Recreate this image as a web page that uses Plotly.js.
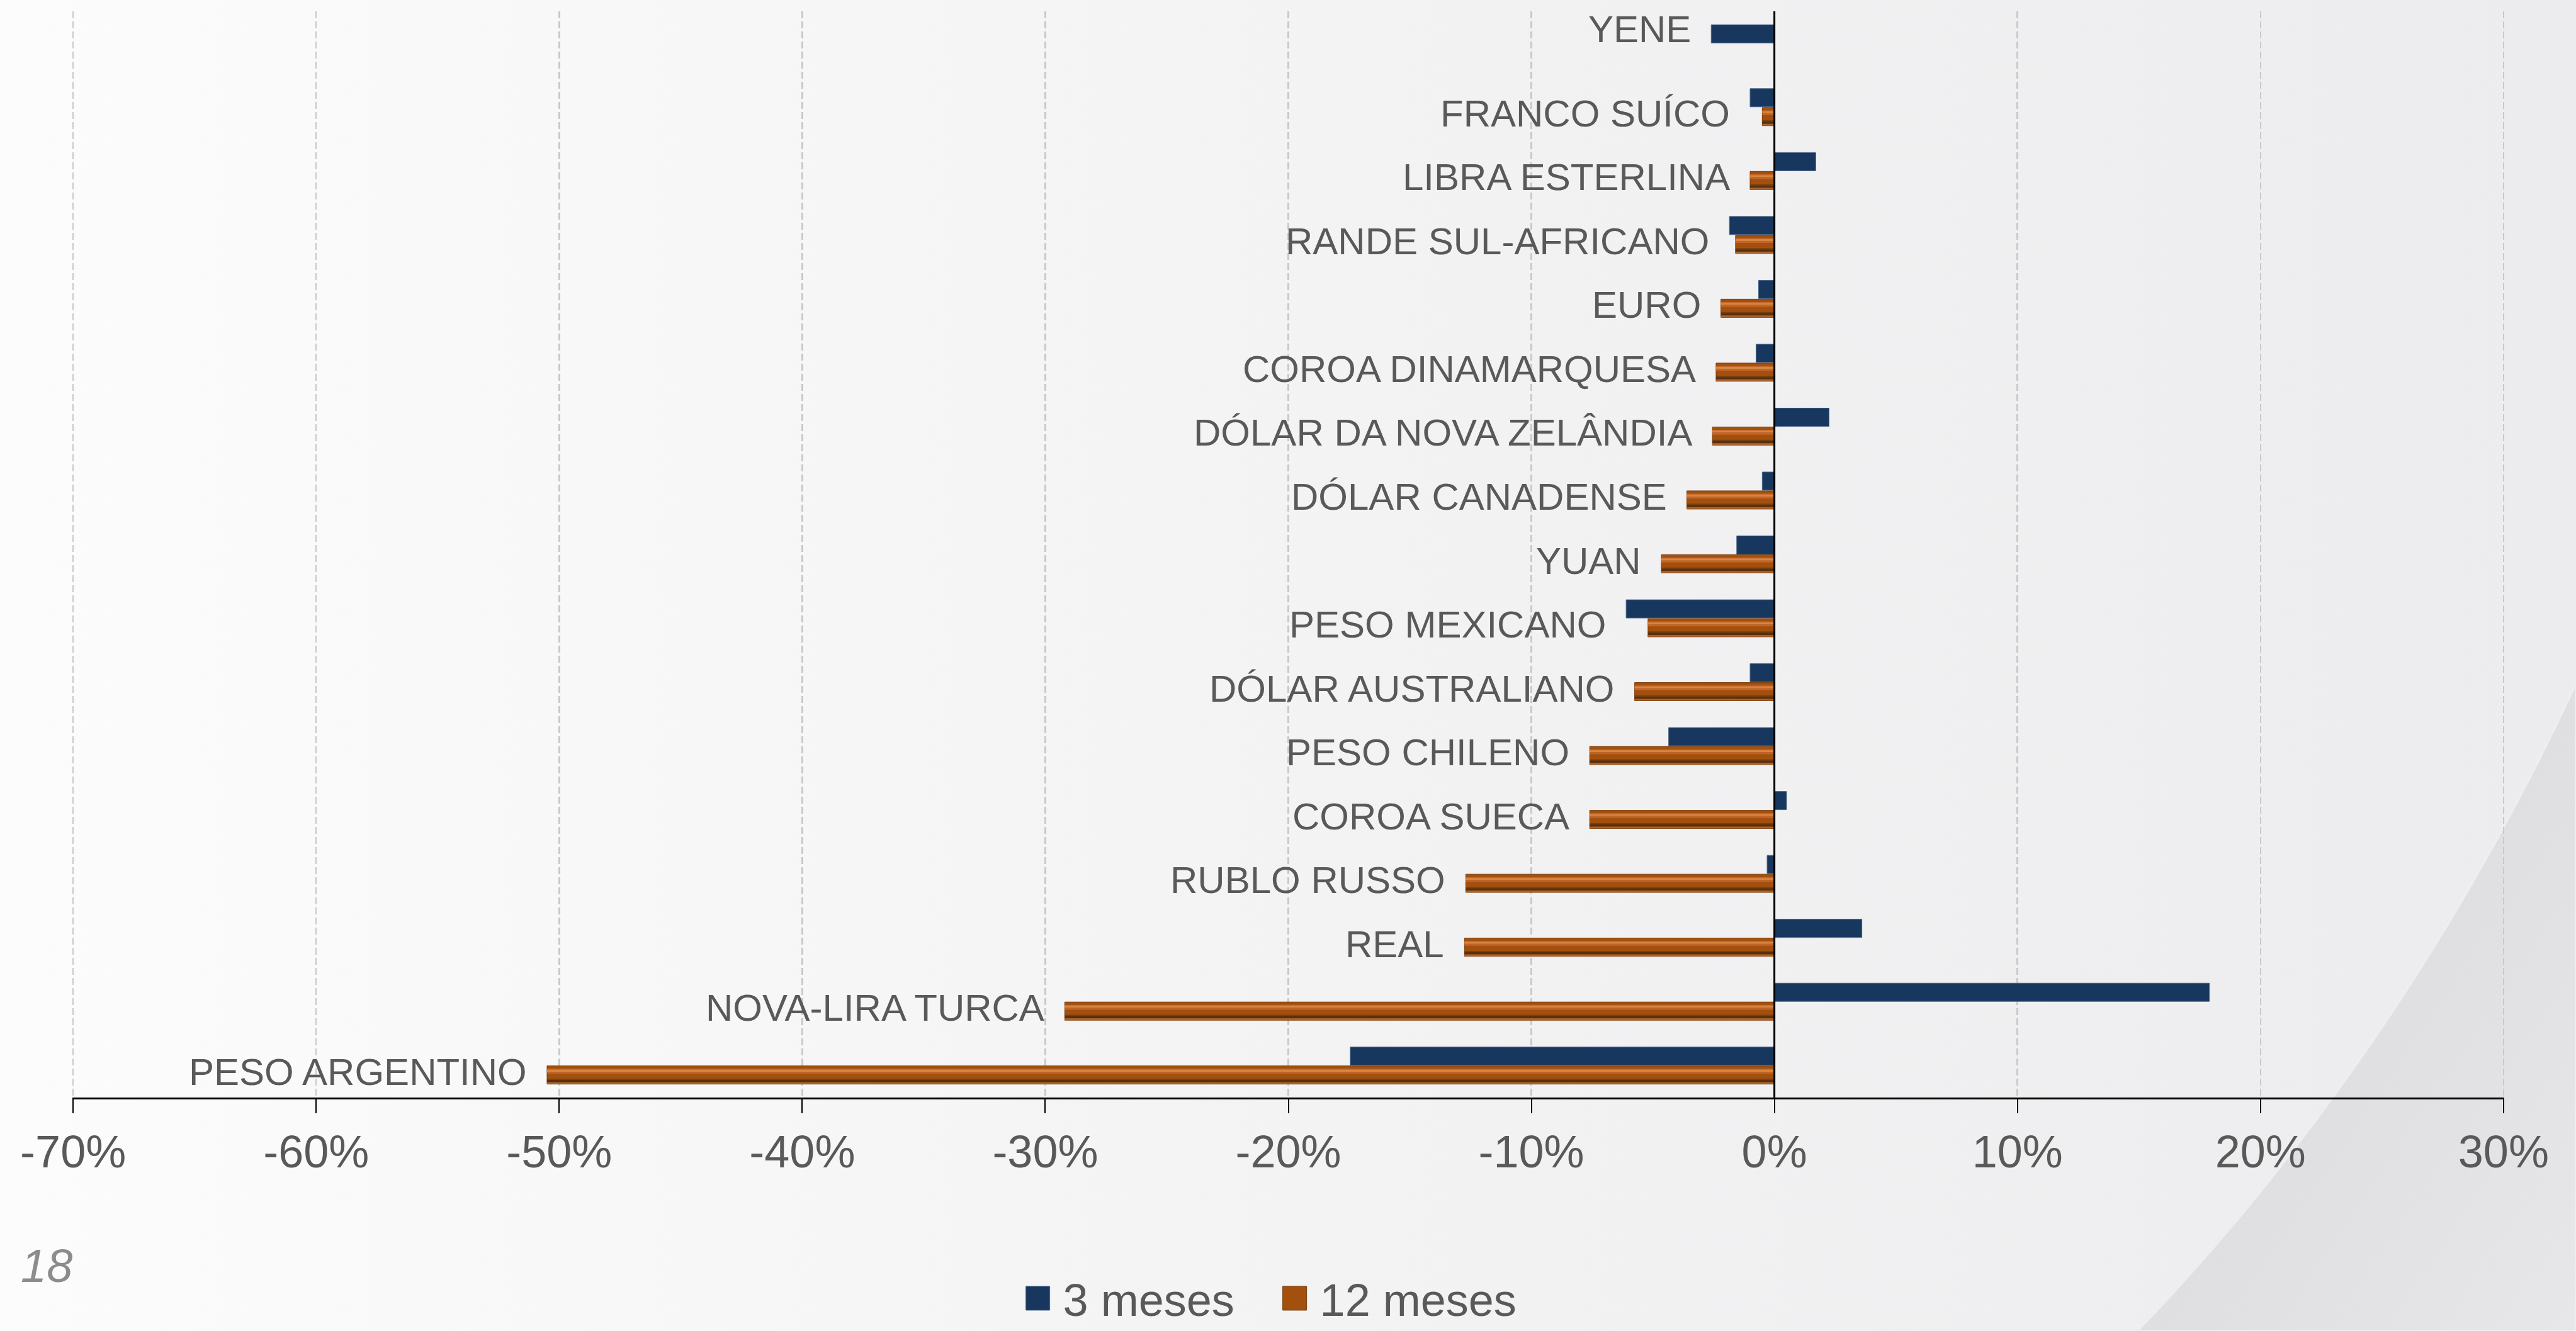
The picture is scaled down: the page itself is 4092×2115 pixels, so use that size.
<!DOCTYPE html>
<html>
<head>
<meta charset="utf-8">
<script src="https://cdn.plot.ly/plotly-3.0.1.min.js"></script>
<style>
  html, body { margin: 0; padding: 0; overflow: hidden; }
  body {
    width: 4092px; height: 2115px; position: relative;
    background: linear-gradient(to right, #fcfcfc 0%, #f4f4f5 45%, #ececee 100%);
  }
  #curl { position: absolute; left: 0; top: 0; }
  #chart { position: absolute; left: 0; top: 0; width: 4092px; height: 2115px; }
</style>
</head>
<body>
<svg id="curl" width="4092" height="2115">
  <defs>
    <linearGradient id="curlFill" x1="0" y1="0" x2="1" y2="1">
      <stop offset="0" stop-color="#d7d7d9"/>
      <stop offset="1" stop-color="#e7e7e9"/>
    </linearGradient>
  </defs>
  <path d="M3395,2115 C3650,1850 3900,1500 4092,1085 L4092,2115 Z" fill="url(#curlFill)" stroke="#eeeef0" stroke-width="4"/>
</svg>
<div id="chart"></div>
<script>
const categories = [
  'YENE', 'FRANCO SUÍCO', 'LIBRA ESTERLINA', 'RANDE SUL-AFRICANO', 'EURO',
  'COROA DINAMARQUESA', 'DÓLAR DA NOVA ZELÂNDIA', 'DÓLAR CANADENSE', 'YUAN',
  'PESO MEXICANO', 'DÓLAR AUSTRALIANO', 'PESO CHILENO', 'COROA SUECA',
  'RUBLO RUSSO', 'REAL', 'NOVA-LIRA TURCA', 'PESO ARGENTINO'
];

// variação (%) em 3 meses
const tresMeses = [
  -2.6, -1.0, 1.7, -1.85, -0.65, -0.75, 2.25, -0.5, -1.55,
  -6.1, -1.0, -4.35, 0.5, -0.3, 3.6, 17.9, -17.45
];

// variação (%) em 12 meses
const dozeMeses = [
  null, -0.5, -1.0, -1.6, -2.2, -2.4, -2.55, -3.6, -4.65,
  -5.2, -5.75, -7.6, -7.6, -12.7, -12.75, -29.2, -50.5
];

const xTicks = [-70, -60, -50, -40, -30, -20, -10, 0, 10, 20, 30];

const BLUE = '#17375e';
const TXT = '#595959';
const FONT = '"Liberation Sans", Arial, sans-serif';
const BAR_W = 0.285;

// one overlaid bar layer of the 12-month series (used for the bevel look)
function bevel(offset, width, color) {
  return {
    type: 'bar', orientation: 'h', showlegend: false,
    y: categories, x: dozeMeses,
    offset: offset, width: width,
    marker: { color: color, line: { width: 0 } },
    hoverinfo: 'skip'
  };
}

const traces = [
  {
    type: 'bar', orientation: 'h', name: '3 meses',
    y: categories, x: tresMeses,
    offset: -BAR_W - 0.005, width: BAR_W,
    marker: { color: BLUE, line: { color: '#4c6488', width: 1 } },
    hoverinfo: 'skip'
  },
  {
    type: 'bar', orientation: 'h', name: '12 meses',
    y: categories, x: dozeMeses,
    offset: 0.005, width: BAR_W,
    marker: { color: '#a3500e', line: { color: '#7a3c0a', width: 1 } },
    hoverinfo: 'skip'
  },
  bevel(0.05, 0.03, '#c4692a'),
  bevel(0.065, 0.03, '#d98542'),
  bevel(0.095, 0.03, '#c0652a'),
  bevel(0.205, 0.022, '#7a3f10'),
  bevel(0.225, 0.035, '#5a2f0d'),
  bevel(0.262, 0.026, '#a8652e')
];

// category names sit just left of the leftmost bar of each pair
const labels = categories.map((c, i) => ({
  x: Math.min(0, tresMeses[i], dozeMeses[i] === null ? 0 : dozeMeses[i]),
  y: c, xref: 'x', yref: 'y',
  text: c, showarrow: false,
  xanchor: 'right', yanchor: 'middle',
  xshift: -30, yshift: dozeMeses[i] === null ? 22 : -10,
  font: { family: FONT, size: 60, color: TXT }
}));

labels.push({
  xref: 'paper', yref: 'paper', x: -0.0217, y: -0.155,
  xanchor: 'left', yanchor: 'middle', showarrow: false,
  text: '<i>18</i>',
  font: { family: FONT, size: 74, color: '#8c8c8c' }
});

const layout = {
  width: 4092, height: 2115,
  margin: { l: 115, r: 114, t: 18, b: 371, pad: 0, autoexpand: false },
  paper_bgcolor: 'rgba(0,0,0,0)',
  plot_bgcolor: 'rgba(0,0,0,0)',
  barmode: 'overlay',
  font: { family: FONT, color: TXT },
  xaxis: {
    range: [-70.03, 30.03],
    tickvals: xTicks,
    ticktext: xTicks.map(v => v + '%'),
    showgrid: true, gridcolor: '#c9c9c9', gridwidth: 2.5, griddash: '11px,5px',
    zeroline: false,
    showline: true, linecolor: '#000000', linewidth: 2.5,
    ticks: 'outside', ticklen: 22, tickwidth: 2, tickcolor: '#000000',
    tickfont: { family: FONT, size: 72, color: TXT },
    fixedrange: true
  },
  yaxis: {
    type: 'category',
    categoryorder: 'array', categoryarray: categories,
    range: [categories.length - 0.5, -0.5],
    showticklabels: false, showgrid: false, zeroline: false, showline: false,
    ticks: '', fixedrange: true
  },
  shapes: [
    { type: 'line', xref: 'x', yref: 'paper', x0: 0, x1: 0, y0: 0, y1: 1,
      line: { color: '#000000', width: 3 }, layer: 'above' }
  ],
  annotations: labels,
  showlegend: true,
  legend: {
    orientation: 'h', xref: 'container', yref: 'container',
    x: 0.398, xanchor: 'left', y: 0.0245, yanchor: 'middle',
    font: { family: FONT, size: 72, color: TXT },
    bgcolor: 'rgba(0,0,0,0)', itemwidth: 30, traceorder: 'normal',
    entrywidth: 363, entrywidthmode: 'pixels'
  }
};

Plotly.newPlot('chart', traces, layout, { displayModeBar: false, staticPlot: true }).then(gd => {
  // enlarge legend keys to the size of the original chart's keys
  gd.querySelectorAll('.legendpoints path').forEach(p => {
    p.setAttribute('d', 'M19,19H-19V-19H19Z');
  });
  gd.querySelectorAll('.legendtext').forEach(t => {
    t.setAttribute('x', 60);
  });
});
</script>
</body>
</html>
